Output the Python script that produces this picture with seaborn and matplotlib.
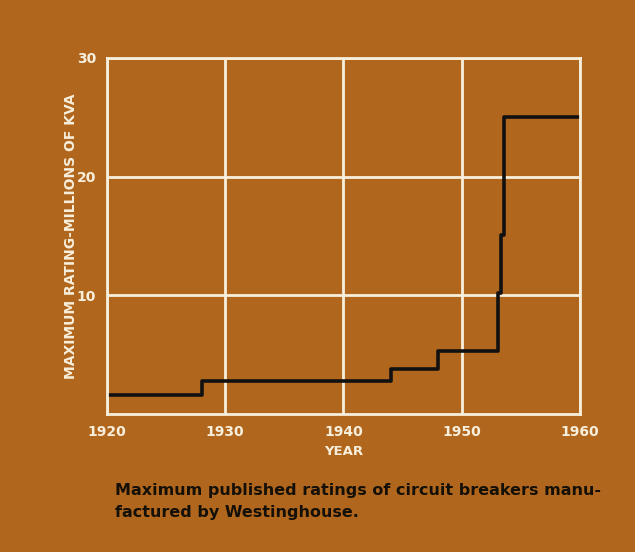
import matplotlib
matplotlib.use("Agg")
import matplotlib.pyplot as plt
import seaborn as sns
import pandas as pd

# Step data
years = [1920, 1928, 1944, 1948, 1953.1, 1953.35, 1953.6, 1960]
rating = [1.6, 2.8, 3.8, 5.3, 10.2, 15.1, 25.0, 25.0]
x_ticks = [1920, 1930, 1940, 1950, 1960]
y_ticks = [10, 20, 30]

df = pd.DataFrame({"Year": years, "Rating": rating})

bg = "#b1661d"
cream = "#f7efdc"

sns.set_style("white")
fig = plt.figure(figsize=(6.35, 5.52), dpi=100, facecolor=bg)
ax = fig.add_axes([0.1685, 0.25, 0.7445, 0.645])
ax.set_facecolor(bg)

sns.lineplot(x="Year", y="Rating", data=df, ax=ax, color="#111111",
             linewidth=2.6, drawstyle="steps-post")

ax.set_xlim(1920, 1960)
ax.set_ylim(0, 30)
ax.set_xticks(x_ticks)
ax.set_yticks(y_ticks)
ax.grid(True, color=cream, linewidth=2)
for s in ax.spines.values():
    s.set_color(cream)
    s.set_linewidth(2)
ax.tick_params(length=0, colors=cream, labelsize=10, pad=8)
for lab in ax.get_xticklabels() + ax.get_yticklabels():
    lab.set_fontweight("bold")

ax.set_xlabel("YEAR", color=cream, fontsize=9.5, fontweight="bold", labelpad=4)
ax.set_ylabel("MAXIMUM RATING-MILLIONS OF KVA", color=cream, fontsize=10,
              fontweight="bold", labelpad=-1)

fig.text(0.181, 0.092, "Maximum published ratings of circuit breakers manu-\nfactured by Westinghouse.",
         color="#141008", fontsize=11.5, fontweight="bold", ha="left", va="center",
         linespacing=1.6)

fig.savefig("out.png", dpi=100, facecolor=bg)
